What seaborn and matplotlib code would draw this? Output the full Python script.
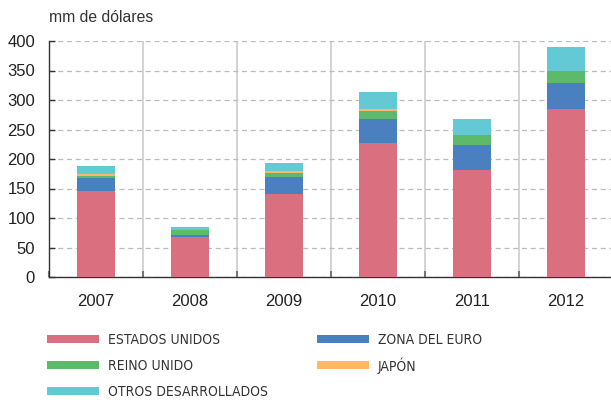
import numpy as np
import pandas as pd
import seaborn as sns
import matplotlib.pyplot as plt
from matplotlib.patches import Rectangle

# Datos (mm de dólares)
anios = ['2007', '2008', '2009', '2010', '2011', '2012']
estados_unidos = [146, 68, 140, 227, 182, 284]
zona_euro = [21, 3.5, 29, 40, 42, 44]
reino_unido = [5, 8.5, 8, 15, 16, 21]
japon = [3, 0.5, 3, 3, 1, 0.5]
otros = [13, 4, 14, 29, 26, 40]

series = ['ESTADOS UNIDOS', 'ZONA DEL EURO', 'REINO UNIDO', 'JAPÓN', 'OTROS DESARROLLADOS']
colores = ['#DA707F', '#4A7FC0', '#5CBA6A', '#FDB863', '#63C9D5']

sns.set_theme(style='white')
plt.rcParams['font.family'] = ['Liberation Sans', 'DejaVu Sans']

valores = np.array([estados_unidos, zona_euro, reino_unido, japon, otros])
acumulado = np.cumsum(valores, axis=0)

W, H = 611, 400
fig = plt.figure(figsize=(W / 100, H / 100), dpi=100)
ax = fig.add_axes([49 / W, 123 / H, 564 / W, 236 / H])

# barras apiladas: se dibuja primero el total y luego cada nivel inferior encima
for i in range(len(series) - 1, -1, -1):
    df = pd.DataFrame({'anio': anios, 'valor': acumulado[i]})
    sns.barplot(data=df, x='anio', y='valor', color=colores[i], width=0.4,
                saturation=1, linewidth=0, edgecolor='none', ax=ax, zorder=3)

ax.set_xlim(-0.5, 5.5)
ax.set_ylim(0, 400)
ax.set_yticks(range(0, 401, 50))
ax.set_xticks(np.arange(-0.5, 5.6, 1), minor=True)
ax.set_xlabel('')
ax.set_ylabel('')

ax.grid(axis='y', which='major', color='#BBBBBB', linestyle=(0, (4, 3)), linewidth=0.9, zorder=0)
ax.grid(axis='x', which='minor', color='#CCCCCC', linestyle='-', linewidth=1.2, zorder=0)
ax.grid(axis='x', which='major', visible=False)

for s in ['top', 'right']:
    ax.spines[s].set_visible(False)
for s in ['left', 'bottom']:
    ax.spines[s].set_color('#333333')
    ax.spines[s].set_linewidth(1.0)

ax.tick_params(axis='y', direction='in', length=4, width=1, color='#333333',
               labelsize=12, labelcolor='#222222', pad=10, left=True)
ax.tick_params(axis='x', which='major', length=0, labelsize=12,
               labelcolor='#222222', pad=12)
ax.tick_params(axis='x', which='minor', direction='in', length=4, width=1.5,
               color='#777777', bottom=True)

fig.text(49 / W, 1 - 17 / H, 'mm de dólares', fontsize=11.3, color='#333333', va='center')

# leyenda manual en dos columnas
pos_leyenda = [(47, 339), (317, 339), (47, 365), (317, 365), (47, 391)]
for (px, py), nombre, color in zip(pos_leyenda, series, colores):
    fig.add_artist(Rectangle((px / W, 1 - (py + 4) / H), 52 / W, 8 / H,
                             transform=fig.transFigure, facecolor=color, edgecolor='none'))
    fig.text((px + 61) / W, 1 - (py + 1) / H, nombre, fontsize=10, color='#333333',
             va='center', family='DejaVu Sans', stretch='condensed')

fig.savefig('out.png', dpi=100)
